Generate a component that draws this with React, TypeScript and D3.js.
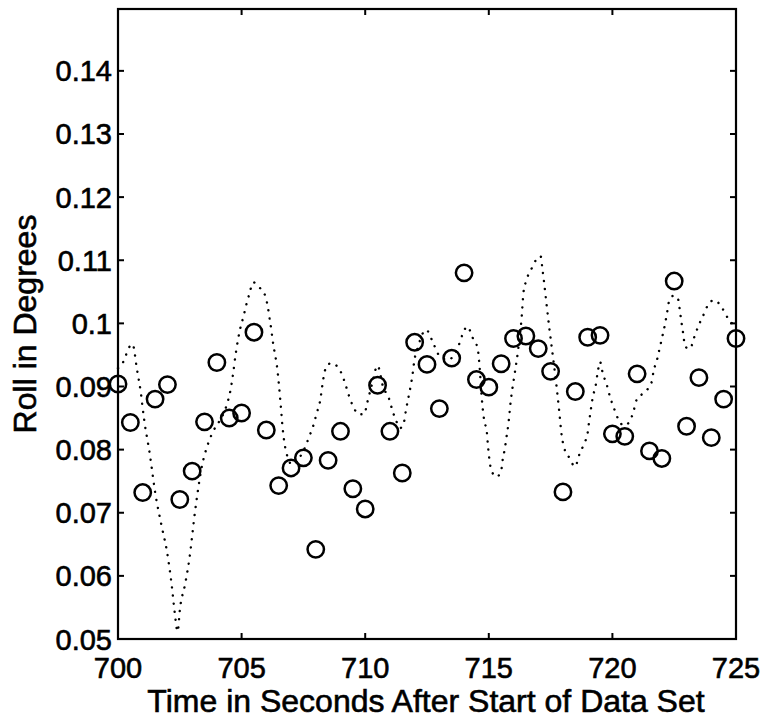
import React from "react";
import * as d3 from "d3";

// ---- data ----
const TIMES = [
  700, 700.5, 701, 701.5, 702, 702.5, 703, 703.5, 704, 704.5,
  705, 705.5, 706, 706.5, 707, 707.5, 708, 708.5, 709, 709.5,
  710, 710.5, 711, 711.5, 712, 712.5, 713, 713.5, 714, 714.5,
  715, 715.5, 716, 716.5, 717, 717.5, 718, 718.5, 719, 719.5,
  720, 720.5, 721, 721.5, 722, 722.5, 723, 723.5, 724, 724.5, 725,
];
const ROLL = [
  0.0904, 0.0843, 0.0732, 0.0880, 0.0903, 0.0721, 0.0766, 0.0844, 0.0938, 0.0850,
  0.0858, 0.0986, 0.0831, 0.0743, 0.0771, 0.0787, 0.0642, 0.0783, 0.0829, 0.0738,
  0.0706, 0.0902, 0.0829, 0.0763, 0.0970, 0.0935, 0.0865, 0.0945, 0.1080, 0.0911,
  0.0899, 0.0936, 0.0976, 0.0980, 0.0960, 0.0924, 0.0733, 0.0892, 0.0978, 0.0981,
  0.0825, 0.0821, 0.0920, 0.0798, 0.0786, 0.1067, 0.0837, 0.0914, 0.0819, 0.0880, 0.0976,
];

// smoothed (dotted) curve
const FIT_T = [
  700.0, 700.24, 700.42, 700.59, 700.76, 700.92, 701.06, 701.29, 701.5, 701.77,
  701.97, 702.17, 702.3, 702.41, 702.51, 702.71, 702.88, 703.11, 703.39, 703.65,
  703.85, 704.1, 704.3, 704.46, 704.56, 704.64, 704.77, 704.94, 705.07, 705.18,
  705.31, 705.47, 705.72, 705.97, 706.15, 706.28, 706.44, 706.58, 706.66, 706.8,
  707.05, 707.3, 707.56, 707.74, 707.9, 708.04, 708.17, 708.31, 708.43, 708.64,
  709.0, 709.18, 709.32, 709.48, 709.76, 709.96, 710.08, 710.27, 710.5, 710.72,
  710.97, 711.11, 711.27, 711.41, 711.57, 711.65, 711.74, 711.84, 711.92, 711.98,
  712.14, 712.3, 712.46, 712.75, 712.96, 713.35, 713.8, 713.97, 714.13, 714.35,
  714.55, 714.62, 714.71, 714.81, 714.92, 714.96, 715.01, 715.1, 715.3, 715.49,
  715.56, 715.65, 715.72, 715.79, 715.89, 716.03, 716.17, 716.33, 716.4, 716.5,
  716.71, 716.94, 717.1, 717.17, 717.23, 717.34, 717.45, 717.57, 717.75, 717.85,
  717.95, 718.04, 718.26, 718.49, 718.66, 718.85, 719.0, 719.06, 719.13, 719.2,
  719.32, 719.4, 719.5, 719.61, 719.77, 719.9, 720.06, 720.24, 720.47, 720.67,
  720.85, 720.98, 721.3, 721.58, 721.67, 721.81, 721.92, 722.03, 722.13, 722.22,
  722.3, 722.49, 722.66, 722.73, 722.8, 722.87, 722.94, 723.14, 723.31, 723.47,
  723.68, 723.88, 724.12, 724.46, 724.69, 724.96, 725.0,
];
const FIT_V = [
  0.0929, 0.0941, 0.0960, 0.0967, 0.0929, 0.0891, 0.0847, 0.0792, 0.0733, 0.0678,
  0.0641, 0.0586, 0.0540, 0.0512, 0.0549, 0.0586, 0.0625, 0.0700, 0.0773, 0.0810,
  0.0829, 0.0845, 0.0860, 0.0879, 0.0896, 0.0916, 0.0954, 0.0991, 0.1010, 0.1028,
  0.1046, 0.1065, 0.1057, 0.1042, 0.1004, 0.0967, 0.0929, 0.0872, 0.0834, 0.0797,
  0.0776, 0.0785, 0.0803, 0.0821, 0.0838, 0.0858, 0.0876, 0.0913, 0.0932, 0.0937,
  0.0924, 0.0906, 0.0888, 0.0871, 0.0856, 0.0856, 0.0874, 0.0903, 0.0933, 0.0900,
  0.0880, 0.0861, 0.0844, 0.0834, 0.0844, 0.0863, 0.0881, 0.0901, 0.0920, 0.0939,
  0.0963, 0.0982, 0.0990, 0.0969, 0.0951, 0.0942, 0.0967, 0.0986, 0.0995, 0.0977,
  0.0960, 0.0935, 0.0884, 0.0847, 0.0828, 0.0809, 0.0789, 0.0768, 0.0757, 0.0764,
  0.0784, 0.0802, 0.0821, 0.0840, 0.0878, 0.0916, 0.0953, 0.1010, 0.1048, 0.1066,
  0.1085, 0.1102, 0.1106, 0.1086, 0.1067, 0.1029, 0.0992, 0.0955, 0.0897, 0.0860,
  0.0822, 0.0804, 0.0787, 0.0773, 0.0792, 0.0809, 0.0827, 0.0845, 0.0864, 0.0882,
  0.0901, 0.0921, 0.0939, 0.0921, 0.0903, 0.0884, 0.0866, 0.0848, 0.0838, 0.0843,
  0.0860, 0.0879, 0.0891, 0.0906, 0.0925, 0.0943, 0.0962, 0.0981, 0.0999, 0.1019,
  0.1036, 0.1044, 0.1038, 0.1020, 0.1000, 0.0982, 0.0963, 0.0960, 0.0978, 0.0995,
  0.1013, 0.1030, 0.1037, 0.1023, 0.1007, 0.0995, 0.0993,
];

const X_TICKS = [700, 705, 710, 715, 720, 725];
const Y_TICKS = [0.05, 0.06, 0.07, 0.08, 0.09, 0.1, 0.11, 0.12, 0.13, 0.14];
const Y_TICK_LABELS = ["0.05", "0.06", "0.07", "0.08", "0.09", "0.1", "0.11", "0.12", "0.13", "0.14"];
const X_LABEL = "Time in Seconds After Start of Data Set";
const Y_LABEL = "Roll in Degrees";

// ---- layout ----
const W = 763;
const H = 726;
const L = 118;
const R = 736;
const T = 9;
const B = 639;
const FONT = "'Liberation Sans', Arial, Helvetica, sans-serif";
const FS = 29;
const FS_TITLE = 32;

export default function App() {
  const x = d3.scaleLinear().domain([700, 725]).range([L, R]);
  const y = d3.scaleLinear().domain([0.05, 0.1498]).range([B, T]);

  const fit = FIT_T.map((t, i) => [t, FIT_V[i]] as [number, number]);
  const linePath = d3
    .line<[number, number]>()
    .x((d) => x(d[0]))
    .y((d) => y(d[1]))
    .curve(d3.curveMonotoneX)(fit) || "";

  const tickLen = 6;
  const textStyle = { stroke: "#000", strokeWidth: 0.6 };

  return (
    <svg
      width={W}
      height={H}
      style={{ position: "absolute", left: 0, top: 0, background: "#fff" }}
    >
      <rect x={0} y={0} width={W} height={H} fill="#fff" />
      {/* dotted fitted curve */}
      <path
        d={linePath}
        fill="none"
        stroke="#000"
        strokeWidth={2.4}
        strokeLinecap="round"
        strokeDasharray="0.1 8"
      />
      {/* circles */}
      {TIMES.map((t, i) => (
        <circle
          key={i}
          cx={x(t)}
          cy={y(ROLL[i])}
          r={8.2}
          fill="none"
          stroke="#000"
          strokeWidth={2.5}
        />
      ))}
      {/* frame */}
      <rect x={L} y={T} width={R - L} height={B - T} fill="none" stroke="#000" strokeWidth={2.2} />
      {/* x ticks */}
      {X_TICKS.map((t) => (
        <g key={"x" + t}>
          <line x1={x(t)} x2={x(t)} y1={B} y2={B - tickLen} stroke="#000" strokeWidth={2} />
          <line x1={x(t)} x2={x(t)} y1={T} y2={T + tickLen} stroke="#000" strokeWidth={2} />
          <text
            x={x(t)}
            y={678}
            textAnchor="middle"
            fontFamily={FONT}
            fontSize={FS}
            fill="#000"
            style={textStyle}
          >
            {String(t)}
          </text>
        </g>
      ))}
      {/* y ticks */}
      {Y_TICKS.map((v, i) => (
        <g key={"y" + i}>
          <line x1={L} x2={L + tickLen} y1={y(v)} y2={y(v)} stroke="#000" strokeWidth={2} />
          <line x1={R} x2={R - tickLen} y1={y(v)} y2={y(v)} stroke="#000" strokeWidth={2} />
          <text
            x={L - 6}
            y={y(v) + 10.5}
            textAnchor="end"
            fontFamily={FONT}
            fontSize={FS}
            fill="#000"
            style={textStyle}
          >
            {Y_TICK_LABELS[i]}
          </text>
        </g>
      ))}
      {/* axis titles */}
      <text
        x={426}
        y={712}
        textAnchor="middle"
        fontFamily={FONT}
        fontSize={FS_TITLE}
        fill="#000"
        style={textStyle}
      >
        {X_LABEL}
      </text>
      <text
        transform={`translate(36, ${(T + B) / 2}) rotate(-90)`}
        textAnchor="middle"
        fontFamily={FONT}
        fontSize={FS_TITLE}
        fill="#000"
        style={textStyle}
      >
        {Y_LABEL}
      </text>
    </svg>
  );
}
